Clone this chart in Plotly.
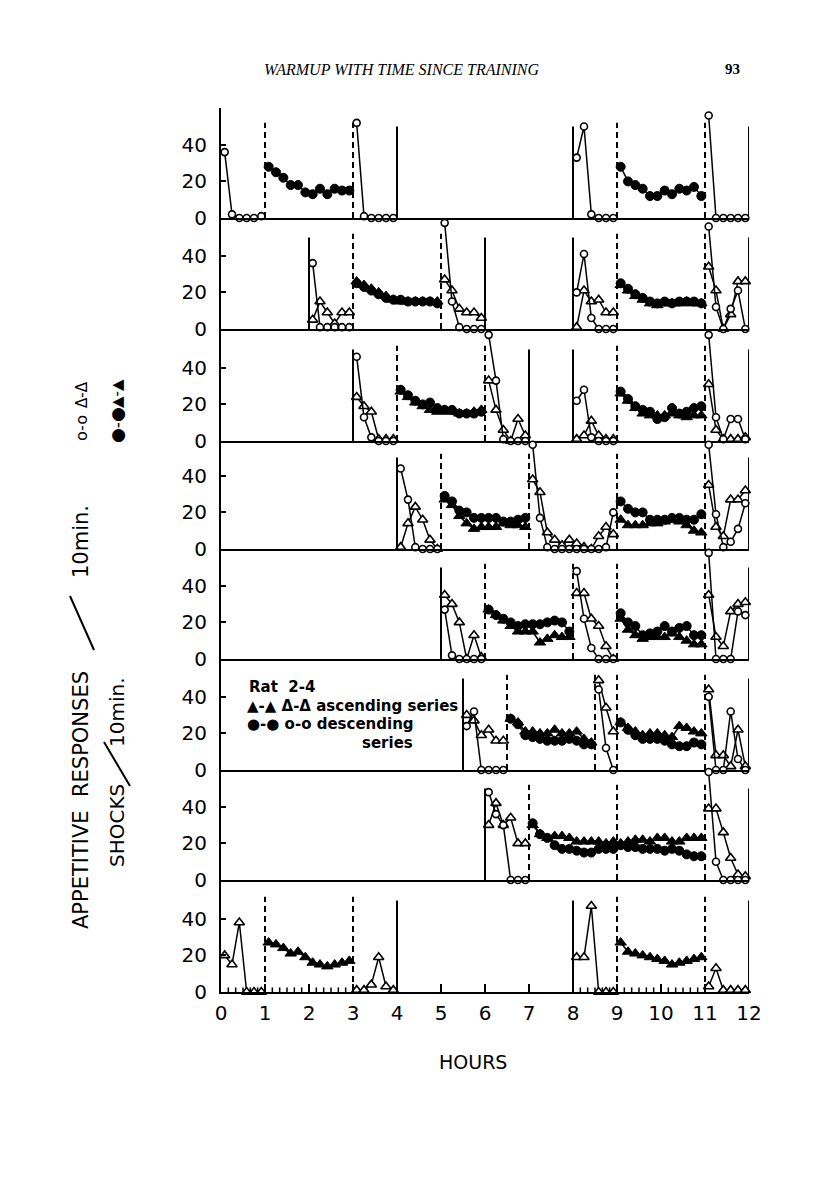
import plotly.graph_objects as go

# ---------------- DATA (values per 10-min bin, segments = (start hour, values)) ----------------
HOUR_TICKS = list(range(13))
Y_TICKS = [0, 20, 40]

# Panel 1
P1_OPEN_CIRCLES = [(0, [36, 2, 0, 0, 0, 1]), (3, [52, 1, 0, 0, 0, 0]),
                   (8, [33, 50, 2, 0, 0, 0]), (11, [56, 0, 0, 0, 0, 0])]
P1_OPEN_TRIANGLES = []
P1_FILLED_CIRCLES = [(1, [28, 25, 22, 18, 18, 14, 13, 16, 13, 16, 15, 15]),
                     (9, [28, 20, 18, 16, 12, 12, 15, 13, 16, 15, 17, 12])]
P1_FILLED_TRIANGLES = []
P1_SOLID = [4, 8, 12]
P1_DASHED = [1, 3, 9, 11]

# Panel 2
P2_OPEN_CIRCLES = [(2, [36, 1, 1, 1, 1, 1]), (5, [58, 15, 1, 0, 0, 0]),
                   (8, [20, 41, 6, 0, 0, 0]), (11, [56, 12, 0, 11, 21, 0])]
P2_OPEN_TRIANGLES = [(2, [5, 15, 9, 3, 9, 9]), (5, [27, 21, 11, 9, 9, 6]),
                     (8, [1, 21, 15, 16, 9, 9]), (11, [34, 21, 0, 8, 26, 26])]
P2_FILLED_CIRCLES = [(3, [25, 23, 21, 19, 17, 16, 16, 15, 15, 15, 15, 14]),
                     (9, [25, 22, 19, 17, 15, 14, 15, 14, 15, 15, 15, 14])]
P2_FILLED_TRIANGLES = [(3, [26, 24, 22, 20, 18, 16, 15, 15, 15, 15, 15, 15]),
                       (9, [24, 21, 18, 16, 14, 13, 14, 14, 14, 15, 14, 14])]
P2_SOLID = [2, 6, 8, 12]
P2_DASHED = [3, 5, 9, 11]

# Panel 3
P3_OPEN_CIRCLES = [(3, [46, 13, 2, 0, 0, 0]), (6, [58, 33, 1, 0, 0, 0]),
                   (8, [22, 28, 2, 0, 0, 0]), (11, [58, 13, 1, 12, 12, 1])]
P3_OPEN_TRIANGLES = [(3, [24, 19, 16, 1, 1, 1]), (6, [33, 17, 6, 0, 12, 3]),
                     (8, [1, 3, 11, 3, 1, 1]), (11, [31, 6, 1, 1, 1, 2])]
P3_FILLED_CIRCLES = [(4, [28, 25, 22, 20, 21, 18, 17, 17, 15, 15, 15, 16]),
                     (9, [27, 23, 19, 17, 16, 12, 13, 18, 15, 16, 18, 19])]
P3_FILLED_TRIANGLES = [(4, [27, 24, 21, 19, 17, 16, 17, 16, 15, 15, 16, 17]),
                       (9, [26, 22, 18, 15, 14, 14, 14, 15, 14, 13, 14, 14])]
P3_SOLID = [3, 7, 8, 12]
P3_DASHED = [4, 6, 9, 11]

# Panel 4
P4_OPEN_CIRCLES = [(4, [44, 27, 1, 0, 0, 0]),
                   (7, [57, 17, 1, 0, 0, 0, 0, 0, 0, 0, 1, 20]),
                   (11, [57, 19, 1, 4, 11, 25])]
P4_OPEN_TRIANGLES = [(4, [1, 14, 23, 16, 5, 0]),
                     (7, [38, 31, 9, 5, 2, 5, 3, 1, 0, 7, 12, 8]),
                     (11, [35, 12, 7, 27, 27, 32])]
P4_FILLED_CIRCLES = [(5, [29, 26, 21, 20, 17, 17, 17, 17, 15, 15, 16, 17]),
                     (9, [26, 22, 20, 20, 16, 16, 16, 17, 17, 16, 16, 19])]
P4_FILLED_TRIANGLES = [(5, [27, 24, 18, 14, 11, 12, 12, 12, 14, 13, 13, 12]),
                       (9, [16, 13, 13, 13, 14, 14, 15, 16, 15, 13, 10, 9])]
P4_SOLID = [4, 12]
P4_DASHED = [5, 7, 9, 11]

# Panel 5
P5_OPEN_CIRCLES = [(5, [27, 2, 0, 0, 0, 0]), (8, [48, 22, 6, 0, 0, 0]),
                   (11, [58, 0, 0, 0, 26, 24])]
P5_OPEN_TRIANGLES = [(5, [35, 30, 20, 0, 13, 1]), (8, [36, 36, 22, 18, 7, 0]),
                     (11, [35, 12, 7, 26, 30, 31])]
P5_FILLED_CIRCLES = [(6, [27, 24, 22, 20, 18, 19, 19, 19, 20, 21, 20, 15]),
                     (9, [25, 20, 18, 13, 14, 15, 18, 15, 17, 18, 13, 13])]
P5_FILLED_TRIANGLES = [(6, [27, 24, 21, 18, 15, 15, 15, 9, 11, 13, 12, 12]),
                       (9, [22, 16, 13, 11, 12, 12, 12, 14, 12, 10, 8, 8])]
P5_SOLID = [5, 12]
P5_DASHED = [6, 8, 9, 11]

# Panel 6
P6_OPEN_CIRCLES = [(5.5, [24, 32, 0, 0, 0, 0]), (8.5, [44, 12, 0]),
                   (11, [40, 0, 0, 32, 6, 0])]
P6_OPEN_TRIANGLES = [(5.5, [30, 27, 19, 22, 16, 16]), (8.5, [49, 34, 21]),
                     (11, [44, 8, 8, 2, 22, 2])]
P6_FILLED_CIRCLES = [(6.5, [28, 25, 19, 18, 17, 16, 16, 16, 17, 16, 14, 14]),
                     (9, [26, 22, 19, 17, 17, 17, 16, 14, 13, 13, 15, 14])]
P6_FILLED_TRIANGLES = [(6.5, [28, 26, 21, 21, 20, 20, 22, 20, 20, 21, 17, 15]),
                       (9, [26, 23, 21, 19, 20, 20, 19, 18, 24, 23, 21, 20])]
P6_SOLID = [5.5, 12]
P6_DASHED = [6.5, 8.5, 9, 11]

# Panel 7
P7_OPEN_CIRCLES = [(6, [48, 36, 30, 0, 0, 0]), (11, [59, 10, 0, 0, 0, 0])]
P7_OPEN_TRIANGLES = [(6, [30, 42, 30, 34, 20, 20]), (11, [39, 39, 26, 12, 3, 2])]
P7_FILLED_CIRCLES = [(7, [31, 25, 23, 19, 17, 17, 16, 15, 15, 17, 17, 17,
                          19, 18, 18, 17, 17, 17, 16, 17, 16, 14, 13, 13])]
P7_FILLED_TRIANGLES = [(7, [30, 25, 23, 24, 24, 23, 21, 21, 21, 21, 20, 21,
                            20, 21, 22, 22, 21, 23, 23, 21, 21, 23, 23, 23])]
P7_SOLID = [6, 12]
P7_DASHED = [7, 9, 11]

# Panel 8
P8_OPEN_CIRCLES = []
P8_OPEN_TRIANGLES = [(0, [20, 15, 38, 0, 0, 0]), (3, [1, 1, 4, 19, 3, 1]),
                     (8, [19, 19, 47, 0, 0, 0]), (11, [3, 13, 1, 1, 1, 1])]
P8_FILLED_CIRCLES = []
P8_FILLED_TRIANGLES = [(1, [27, 26, 24, 21, 22, 19, 16, 15, 14, 15, 16, 17]),
                       (9, [27, 22, 21, 20, 19, 18, 17, 15, 16, 17, 18, 19])]
P8_SOLID = [4, 8, 12]
P8_DASHED = [1, 3, 9, 11]
P8_TICK_SESSIONS = [(0, 1), (1, 3), (8, 9), (9, 11)]

PANELS = [
    (P1_OPEN_CIRCLES, P1_OPEN_TRIANGLES, P1_FILLED_CIRCLES, P1_FILLED_TRIANGLES, P1_SOLID, P1_DASHED),
    (P2_OPEN_CIRCLES, P2_OPEN_TRIANGLES, P2_FILLED_CIRCLES, P2_FILLED_TRIANGLES, P2_SOLID, P2_DASHED),
    (P3_OPEN_CIRCLES, P3_OPEN_TRIANGLES, P3_FILLED_CIRCLES, P3_FILLED_TRIANGLES, P3_SOLID, P3_DASHED),
    (P4_OPEN_CIRCLES, P4_OPEN_TRIANGLES, P4_FILLED_CIRCLES, P4_FILLED_TRIANGLES, P4_SOLID, P4_DASHED),
    (P5_OPEN_CIRCLES, P5_OPEN_TRIANGLES, P5_FILLED_CIRCLES, P5_FILLED_TRIANGLES, P5_SOLID, P5_DASHED),
    (P6_OPEN_CIRCLES, P6_OPEN_TRIANGLES, P6_FILLED_CIRCLES, P6_FILLED_TRIANGLES, P6_SOLID, P6_DASHED),
    (P7_OPEN_CIRCLES, P7_OPEN_TRIANGLES, P7_FILLED_CIRCLES, P7_FILLED_TRIANGLES, P7_SOLID, P7_DASHED),
    (P8_OPEN_CIRCLES, P8_OPEN_TRIANGLES, P8_FILLED_CIRCLES, P8_FILLED_TRIANGLES, P8_SOLID, P8_DASHED),
]

# ---------------- LAYOUT GEOMETRY (page pixels; the html body adds an 8px offset) ----------------
OFF = 8
W, H = 808, 1180
PLOT_L, PLOT_R = 221, 749          # page x of hour 0 and hour 12
PLOT_T, PLOT_B = 100, 1100         # page y of the paper box
ML = PLOT_L - OFF
MR = W - (PLOT_R - OFF)
MT = PLOT_T - OFF
MB = H - (PLOT_B - OFF)
PW = PLOT_R - PLOT_L
PH = PLOT_B - PLOT_T
BASELINES = [218, 329, 441, 549, 659, 770, 880, 992]
TOP = 108
PPU = 1.83
BINS_PER_HOUR = 6
NUM_FONT = "DejaVu Sans"


def px_x(p):
    return (p - PLOT_L) / PW


def px_y(p):
    return (PLOT_B - p) / PH


def seg_xy(segments):
    xs, ys = [], []
    for start, vals in segments:
        for i, v in enumerate(vals):
            xs.append(start + (i + 0.5) / BINS_PER_HOUR)
            ys.append(v)
        xs.append(None)
        ys.append(None)
    return xs, ys


STYLES = {
    "ft": dict(symbol="triangle-up", size=10, color="black", line=dict(color="black", width=1)),
    "fc": dict(symbol="circle", size=9, color="black", line=dict(color="black", width=1)),
    "ot": dict(symbol="triangle-up", size=9, color="white", line=dict(color="black", width=1.6)),
    "oc": dict(symbol="circle", size=7, color="white", line=dict(color="black", width=1.6)),
}

fig = go.Figure()
shapes = []
layout_axes = {}

for k, (oc, ot, fc, ft, solid, dashed) in enumerate(PANELS, start=1):
    xa = "x" if k == 1 else f"x{k}"
    ya = "y" if k == 1 else f"y{k}"
    base = BASELINES[k - 1]
    top = TOP if k == 1 else BASELINES[k - 2]
    ymax = (base - top) / PPU
    for key, segs in (("ft", ft), ("fc", fc), ("ot", ot), ("oc", oc)):
        if not segs:
            continue
        xs, ys = seg_xy(segs)
        fig.add_trace(go.Scatter(
            x=xs, y=ys, mode="lines+markers", xaxis=xa, yaxis=ya,
            line=dict(color="black", width=1.5), marker=STYLES[key],
            cliponaxis=False, showlegend=False, hoverinfo="skip"))
    for h in solid:
        shapes.append(dict(type="line", xref=xa, yref=ya, x0=h, x1=h, y0=0, y1=50,
                           line=dict(color="black", width=2)))
    for h in dashed:
        shapes.append(dict(type="line", xref=xa, yref=ya, x0=h, x1=h, y0=0, y1=52,
                           line=dict(color="black", width=2, dash="6px,4px")))
    is_bottom = k == len(PANELS)
    layout_axes["xaxis" if k == 1 else f"xaxis{k}"] = dict(
        domain=[0, 1], range=[0, 12], anchor=ya, showline=True, linecolor="black",
        linewidth=2, showgrid=False, zeroline=False,
        tickvals=HOUR_TICKS, ticktext=[str(t) for t in HOUR_TICKS],
        showticklabels=is_bottom, ticks="inside" if is_bottom else "",
        ticklen=8, tickwidth=1.5, tickcolor="black", ticklabelstandoff=2,
        tickfont=dict(family=NUM_FONT, size=20, color="black"),
        **({} if k == 1 else {"matches": "x"}))
    layout_axes["yaxis" if k == 1 else f"yaxis{k}"] = dict(
        domain=[px_y(base), px_y(top)], range=[0, ymax], anchor=xa,
        showline=True, linecolor="black", linewidth=2, showgrid=False, zeroline=False,
        tickvals=Y_TICKS, ticktext=[str(t) for t in Y_TICKS], ticks="inside",
        ticklen=5, tickwidth=1.5, tickcolor="black", ticklabelstandoff=8,
        tickfont=dict(family=NUM_FONT, size=20, color="black"))

# short 10-minute tick marks on the bottom panel baseline
for s, e in P8_TICK_SESSIONS:
    n = int(round((e - s) * BINS_PER_HOUR))
    for i in range(1, n + 1):
        xv = s + i / BINS_PER_HOUR
        shapes.append(dict(type="line", xref="x8", yref="y8", x0=xv, x1=xv, y0=0, y1=2.5,
                           line=dict(color="black", width=1.5)))

annotations = []


def ann(text, px, py, size, family="DejaVu Sans", angle=0, xanchor="center", yanchor="middle"):
    annotations.append(dict(text=text, x=px_x(px), y=px_y(py), xref="paper", yref="paper",
                            showarrow=False, textangle=angle, xanchor=xanchor, yanchor=yanchor,
                            font=dict(family=family, size=size, color="black")))


ann("<i>WARMUP WITH TIME SINCE TRAINING</i>", 401, 69, 16, family="Liberation Serif")
ann("<b>93</b>", 732, 69, 15, family="Liberation Serif")
ann("HOURS", 473, 1062, 19)

# rotated y-axis titles
ann("APPETITIVE  RESPONSES", 81, 800, 21, angle=-90)
ann("10min.", 81, 542, 21, angle=-90)
ann("o-o", 82, 428, 16, angle=-90)
ann("Δ-Δ", 82, 395, 15, angle=-90)
ann("SHOCKS", 117, 826, 20, angle=-90)
ann("10min.", 117, 712, 20, angle=-90)
ann("●-●", 117, 425, 17, angle=-90)
ann("▲-▲", 117, 394, 15, angle=-90)
for (x0, y0, x1, y1) in [(70, 596, 94, 650), (104, 742, 130, 786)]:
    shapes.append(dict(type="line", xref="paper", yref="paper",
                       x0=px_x(x0), y0=px_y(y0), x1=px_x(x1), y1=px_y(y1),
                       line=dict(color="black", width=2)))

# legend text in panel 6
ann("<b>Rat  2-4</b>", 247, 687, 15, xanchor="left")
ann("<b>▲-▲ Δ-Δ ascending series</b>", 245, 706, 15, xanchor="left")
ann("<b>●-● o-o descending</b>", 245, 724, 15, xanchor="left")
ann("<b>series</b>", 360, 743, 15, xanchor="left")

fig.update_layout(
    width=W, height=H, margin=dict(l=ML, r=MR, t=MT, b=MB),
    paper_bgcolor="white", plot_bgcolor="white",
    shapes=shapes, annotations=annotations, showlegend=False,
    **layout_axes)

fig.write_html("out.html")
